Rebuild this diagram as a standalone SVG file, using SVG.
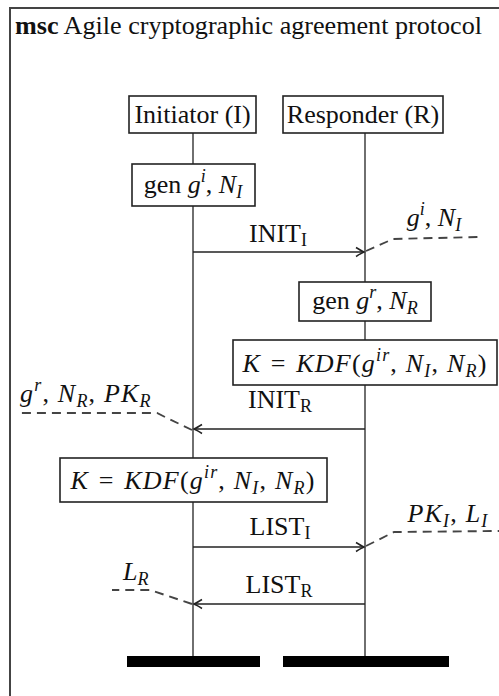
<svg xmlns="http://www.w3.org/2000/svg" width="499" height="696" viewBox="0 0 499 696" font-family="'Liberation Serif', 'Times New Roman', 'DejaVu Serif', serif">
  <style>
    text { font-family: "Liberation Serif", "Times New Roman", "DejaVu Serif", serif; font-size: 26px; fill: #111; }
    .i { font-style: italic; }
    .s { font-size: 18px; }
    .b { font-weight: bold; }
    .wide { letter-spacing: 1.2px; }
    .box { fill: #fff; stroke: #222; stroke-width: 1.6; }
    .life { stroke: #333; stroke-width: 1.4; fill: none; }
    .msg { stroke: #222; stroke-width: 1.4; fill: none; marker-end: url(#head); }
    .note { stroke: #444; stroke-width: 1.9; fill: none; stroke-dasharray: 9 6; }
    .bar { fill: #000; }
  </style>
  <defs>
    <marker id="head" viewBox="-10 -6 12 12" refX="0" refY="0" markerWidth="12" markerHeight="12" markerUnits="userSpaceOnUse" orient="auto">
      <path d="M-8,-4.5 Q-2.5,-1 0,0 Q-2.5,1 -8,4.5" fill="none" stroke="#222" stroke-width="1.5"/>
    </marker>
  </defs>

  <!-- frame -->
  <rect x="10" y="8" width="500" height="700" fill="none" stroke="#444" stroke-width="2"/>
  <text x="15" y="34" textLength="467" lengthAdjust="spacingAndGlyphs" style="font-size:25px"><tspan class="b">msc</tspan> Agile cryptographic agreement protocol</text>

  <!-- lifelines -->
  <g id="lifelines">
    <line class="life" x1="193" y1="133" x2="193" y2="656"/>
    <line class="life" x1="365" y1="133" x2="365" y2="656"/>
  </g>

  <g id="initiator">
    <rect class="box" x="129" y="96" width="127" height="37"/>
    <text x="192.5" y="123" text-anchor="middle">Initiator (I)</text>
  </g>
  <g id="responder">
    <rect class="box" x="283" y="96" width="160" height="37"/>
    <text x="363" y="123" text-anchor="middle">Responder (R)</text>
  </g>

  <g id="gen-i">
    <rect class="box" x="132" y="164" width="123" height="42"/>
    <text x="193" y="193" text-anchor="middle">gen <tspan class="i">g</tspan><tspan class="s i" dy="-11">i</tspan><tspan dy="11">, </tspan><tspan class="i">N</tspan><tspan class="s i" dy="5">I</tspan></text>
  </g>

  <g id="gen-r">
    <rect class="box" x="299" y="282" width="132" height="39"/>
    <text x="365" y="309" text-anchor="middle">gen <tspan class="i">g</tspan><tspan class="s i" dy="-11">r</tspan><tspan dy="11">, </tspan><tspan class="i">N</tspan><tspan class="s i" dy="5">R</tspan></text>
  </g>

  <g id="kdf-r">
    <rect class="box" x="233" y="340" width="264" height="45"/>
    <text class="wide" x="365" y="372" text-anchor="middle"><tspan class="i">K</tspan><tspan dx="2"> = </tspan><tspan class="i" dx="2">KDF</tspan>(<tspan class="i">g</tspan><tspan class="s i" dy="-11">ir</tspan><tspan dy="11">, </tspan><tspan class="i">N</tspan><tspan class="s i" dy="5">I</tspan><tspan dy="-5">, </tspan><tspan class="i">N</tspan><tspan class="s i" dy="5">R</tspan><tspan dy="-5">)</tspan></text>
  </g>

  <g id="kdf-i">
    <rect class="box" x="60" y="458" width="267" height="44"/>
    <text class="wide" x="193" y="489" text-anchor="middle"><tspan class="i">K</tspan><tspan dx="2"> = </tspan><tspan class="i" dx="2">KDF</tspan>(<tspan class="i">g</tspan><tspan class="s i" dy="-11">ir</tspan><tspan dy="11">, </tspan><tspan class="i">N</tspan><tspan class="s i" dy="5">I</tspan><tspan dy="-5">, </tspan><tspan class="i">N</tspan><tspan class="s i" dy="5">R</tspan><tspan dy="-5">)</tspan></text>
  </g>

  <!-- messages and their annotations -->
  <g id="connectors">
    <line class="msg" x1="193" y1="252" x2="364" y2="252"/>
    <line class="msg" x1="365" y1="429" x2="194" y2="429"/>
    <line class="msg" x1="193" y1="547" x2="364" y2="547"/>
    <line class="msg" x1="365" y1="604" x2="194" y2="604"/>

    <path class="note" d="M366,251 L393,239 L478,237"/>
    <path class="note" d="M192,430 L165,417 L157,413 L20,413"/>
    <path class="note" d="M366,546 L394,532 L499,531"/>
    <path class="note" d="M192,604 L150,590 L112,590"/>
  </g>

  <g id="labels">
    <text x="278" y="242" text-anchor="middle">INIT<tspan class="s" dy="4">I</tspan></text>
    <text x="434" y="226" text-anchor="middle"><tspan class="i">g</tspan><tspan class="s i" dy="-11">i</tspan><tspan dy="11">, </tspan><tspan class="i">N</tspan><tspan class="s i" dy="5">I</tspan></text>

    <text x="280" y="408" text-anchor="middle">INIT<tspan class="s" dy="4">R</tspan></text>
    <text class="wide" x="20" y="402"><tspan class="i">g</tspan><tspan class="s i" dy="-11">r</tspan><tspan dy="11">, </tspan><tspan class="i">N</tspan><tspan class="s i" dy="5">R</tspan><tspan dy="-5">, </tspan><tspan class="i">PK</tspan><tspan class="s i" dy="5">R</tspan></text>

    <text x="280" y="535" text-anchor="middle">LIST<tspan class="s" dy="4">I</tspan></text>
    <text class="wide" x="448" y="522" text-anchor="middle"><tspan class="i">PK</tspan><tspan class="s i" dy="5">I</tspan><tspan dy="-5">, </tspan><tspan class="i">L</tspan><tspan class="s i" dy="5">I</tspan></text>

    <text x="279" y="593" text-anchor="middle">LIST<tspan class="s" dy="4">R</tspan></text>
    <text x="123" y="580"><tspan class="i">L</tspan><tspan class="s i" dy="5">R</tspan></text>
  </g>

  <!-- lifeline ends -->
  <g id="ends">
    <rect class="bar" x="127" y="656" width="133" height="11"/>
    <rect class="bar" x="283" y="656" width="166" height="11"/>
  </g>
</svg>
